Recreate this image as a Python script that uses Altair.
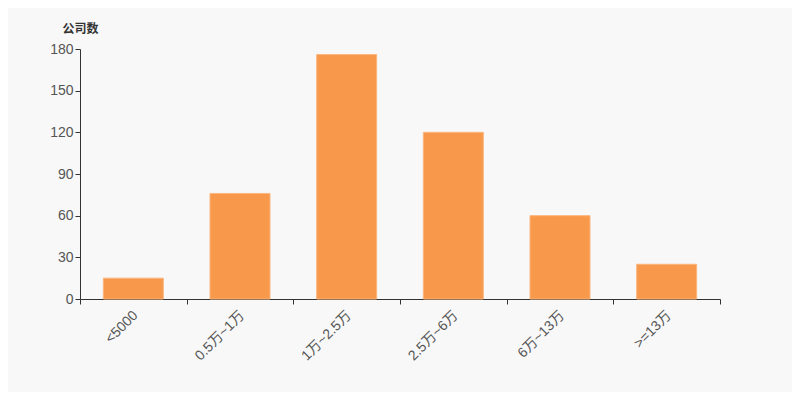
import altair as alt
import pandas as pd

categories = ["<5000", "0.5万~1万", "1万~2.5万", "2.5万~6万", "6万~13万", ">=13万"]
counts = [15, 76, 176, 120, 60, 25]

df = pd.DataFrame({"cat": categories, "n": counts})

font = "Liberation Sans, Noto Sans CJK SC, sans-serif"

chart = alt.Chart(df).mark_bar(
    color="#F7984A", stroke="#FAB67E", strokeWidth=1,
    width=alt.RelativeBandSize(0.5625)
).encode(
    x=alt.X("cat:N", sort=categories, title=None,
            scale=alt.Scale(paddingInner=0, paddingOuter=0),
            axis=alt.Axis(labelAngle=-45, labelFontSize=14, labelColor="#555",
                          labelFont=font, tickBand="extent", tickSize=5,
                          domainColor="#333", tickColor="#333", labelPadding=4,
                          labelOffset=-3)),
    y=alt.Y("n:Q", title="公司数",
            scale=alt.Scale(domain=[0, 180], nice=False),
            axis=alt.Axis(values=[0, 30, 60, 90, 120, 150, 180], grid=False,
                          labelFontSize=14, labelColor="#555", labelFont=font,
                          tickSize=5, domainColor="#333", tickColor="#333",
                          titleAngle=0, titleX=0, titleY=-21, titleAlign="center",
                          titleBaseline="middle", titleFont=font, titleFontSize=12,
                          titleFontWeight="bold", titleColor="#333")),
).properties(
    width=640, height=250,
    autosize=alt.AutoSizeParams(type="none"),
    padding={"left": 72, "top": 41, "right": 72, "bottom": 93},
    background="#F8F8F8",
).configure_view(stroke=None)

chart.save("out.html", embed_options={"renderer": "svg", "actions": False})
